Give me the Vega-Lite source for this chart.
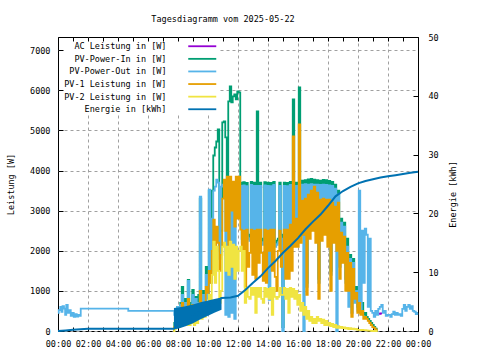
{
  "$schema": "https://vega.github.io/schema/vega-lite/v6.json",
  "width": 360,
  "height": 294,
  "autosize": {"type": "none"},
  "padding": {"left": 58, "top": 37, "right": 62, "bottom": 29},
  "title": {"text": "Tagesdiagramm vom 2025-05-22", "fontSize": 8.5, "fontWeight": "normal", "font": "DejaVu Sans Mono", "color": "black", "anchor": "middle", "offset": 10, "dx": -15},
  "config": {
    "font": "DejaVu Sans Mono",
    "view": {"stroke": "black", "strokeWidth": 1},
    "axis": {"labelFontSize": 8.5, "titleFontSize": 8.5, "titleFontWeight": "normal", "labelColor": "black", "titleColor": "black", "tickColor": "black", "domain": false, "gridColor": "#a0a0a0", "gridDash": [3, 3], "tickSize": -5, "labelPadding": 13},
    "mark": {"invalid": "filter"},
    "line": {"strokeWidth": 1.8}
  },
  "datasets": {
    "d": [
      {"t": 0.0, "pout": 450}, {"t": 0.1, "pout": 520}, {"t": 0.2, "pout": 600}, {"t": 0.25, "pout": 480}, {"t": 0.35, "pout": 620}, {"t": 0.45, "pout": 560}, {"t": 0.5, "pout": 400}, {"t": 0.6, "pout": 650}, {"t": 0.7, "pout": 450}, {"t": 0.8, "pout": 520}, {"t": 0.9, "pout": 380}, {"t": 1.0, "pout": 450}, {"t": 1.1, "pout": 350}, {"t": 1.2, "pout": 420}, {"t": 1.3, "pout": 360}, {"t": 1.4, "pout": 400}, {"t": 1.5, "pout": 380}, {"t": 1.53, "pout": 560}, {"t": 4.67, "pout": 560}, {"t": 4.7, "pout": 500}, {"t": 7.6, "pout": 500},
      {"t": 7.7, "pin": 0, "pout": 500, "pv1": 0, "pv2": 0},
      {"t": 7.8, "pin": 200, "pout": 400, "pv1": 100, "pv2": 50},
      {"t": 7.9, "pin": 300, "pout": 550, "pv1": 200, "pv2": 100},
      {"t": 8.0, "pin": 600, "pout": 600, "pv1": 300, "pv2": 150},
      {"t": 8.1, "pin": 400, "pout": 350, "pv1": 250, "pv2": 100},
      {"t": 8.2, "pin": 700, "pout": 650, "pv1": 400, "pv2": 200},
      {"t": 8.3, "pin": 1100, "pout": 900, "pv1": 700, "pv2": 300},
      {"t": 8.4, "pin": 500, "pout": 400, "pv1": 300, "pv2": 150},
      {"t": 8.5, "pin": 800, "pout": 700, "pv1": 500, "pv2": 250},
      {"t": 8.6, "pin": 400, "pout": 350, "pv1": 250, "pv2": 150},
      {"t": 8.7, "pin": 1275, "pout": 1250, "pv1": 800, "pv2": 350},
      {"t": 8.8, "pin": 500, "pout": 450, "pv1": 300, "pv2": 150},
      {"t": 8.9, "pin": 700, "pout": 600, "pv1": 450, "pv2": 200},
      {"t": 9.0, "pin": 1025, "pout": 900, "pv1": 650, "pv2": 300},
      {"t": 9.1, "pin": 500, "pout": 450, "pv1": 350, "pv2": 150},
      {"t": 9.2, "pin": 850, "pout": 800, "pv1": 550, "pv2": 250},
      {"t": 9.3, "pin": 400, "pout": 350, "pv1": 300, "pv2": 200},
      {"t": 9.4, "pin": 900, "pout": 700, "pv1": 600, "pv2": 350},
      {"t": 9.5, "pin": 3300, "pout": 3350, "pv1": 1000, "pv2": 400},
      {"t": 9.6, "pin": 600, "pout": 500, "pv1": 400, "pv2": 300},
      {"t": 9.7, "pin": 1000, "pout": 900, "pv1": 700, "pv2": 450},
      {"t": 9.8, "pin": 700, "pout": 600, "pv1": 500, "pv2": 350},
      {"t": 9.9, "pin": 1600, "pout": 1400, "pv1": 1100, "pv2": 550},
      {"t": 10.0, "pin": 900, "pout": 800, "pv1": 950, "pv2": 500},
      {"t": 10.1, "pin": 3500, "pout": 3525, "pv1": 1500, "pv2": 900},
      {"t": 10.2, "pin": 1500, "pout": 1200, "pv1": 1200, "pv2": 700},
      {"t": 10.3, "pin": 3500, "pout": 2800, "pv1": 2000, "pv2": 1400},
      {"t": 10.4, "pin": 4375, "pout": 3500, "pv1": 2775, "pv2": 2225},
      {"t": 10.5, "pin": 4575, "pout": 3600, "pv1": 1800, "pv2": 1200},
      {"t": 10.6, "pin": 4725, "pout": 3775, "pv1": 2600, "pv2": 2100},
      {"t": 10.7, "pin": 5025, "pout": 3700, "pv1": 2200, "pv2": 1500},
      {"t": 10.8, "pin": 2000, "pout": 1800, "pv1": 1500, "pv2": 700},
      {"t": 10.9, "pin": 2500, "pout": 3600, "pv1": 1900, "pv2": 1000},
      {"t": 11.0, "pin": 5200, "pout": 3650, "pv1": 3300, "pv2": 2100},
      {"t": 11.1, "pin": 5225, "pout": 3600, "pv1": 3775, "pv2": 2200},
      {"t": 11.2, "pin": 4825, "pout": 400, "pv1": 2500, "pv2": 1500},
      {"t": 11.3, "pin": 3700, "pout": 3650, "pv1": 3850, "pv2": 2100},
      {"t": 11.4, "pin": 5725, "pout": 350, "pv1": 2000, "pv2": 1400},
      {"t": 11.5, "pin": 6100, "pout": 3650, "pv1": 3850, "pv2": 2225},
      {"t": 11.6, "pin": 5700, "pout": 450, "pv1": 3000, "pv2": 1600},
      {"t": 11.7, "pin": 5850, "pout": 3600, "pv1": 3725, "pv2": 2150},
      {"t": 11.8, "pin": 5900, "pout": 300, "pv1": 2600, "pv2": 1300},
      {"t": 11.9, "pin": 5775, "pout": 3650, "pv1": 3850, "pv2": 2100},
      {"t": 12.0, "pin": 5975, "pout": 3600, "pv1": 2800, "pv2": 1500},
      {"t": 12.1, "pin": 5950, "pout": 3650, "pv1": 3850, "pv2": 2000},
      {"t": 12.2, "pin": 3700, "pout": 3620, "pv1": 2525, "pv2": 2100},
      {"t": 12.3, "pin": 2300, "pout": 2200, "pv1": 2000, "pv2": 1500},
      {"t": 12.4, "pin": 3710, "pout": 3630, "pv1": 2500, "pv2": 2000},
      {"t": 12.5, "pin": 2250, "pout": 2150, "pv1": 1100, "pv2": 700},
      {"t": 12.6, "pin": 3690, "pout": 3610, "pv1": 2525, "pv2": 1075},
      {"t": 12.7, "pin": 2400, "pout": 2300, "pv1": 1600, "pv2": 850},
      {"t": 12.8, "pin": 2350, "pout": 2250, "pv1": 1950, "pv2": 800},
      {"t": 12.9, "pin": 3720, "pout": 3640, "pv1": 2525, "pv2": 1075},
      {"t": 13.0, "pin": 2300, "pout": 2200, "pv1": 1400, "pv2": 900},
      {"t": 13.1, "pin": 3700, "pout": 3620, "pv1": 2500, "pv2": 1075},
      {"t": 13.2, "pin": 2400, "pout": 2300, "pv1": 1300, "pv2": 450},
      {"t": 13.3, "pin": 5475, "pout": 3620, "pv1": 2525, "pv2": 1075},
      {"t": 13.4, "pin": 2200, "pout": 2100, "pv1": 1700, "pv2": 850},
      {"t": 13.5, "pin": 3700, "pout": 3620, "pv1": 2525, "pv2": 1075},
      {"t": 13.6, "pin": 2300, "pout": 2200, "pv1": 1950, "pv2": 800},
      {"t": 13.7, "pin": 2250, "pout": 2150, "pv1": 1250, "pv2": 700},
      {"t": 13.8, "pin": 3710, "pout": 3630, "pv1": 2525, "pv2": 1075},
      {"t": 13.9, "pin": 2400, "pout": 2300, "pv1": 1200, "pv2": 850},
      {"t": 14.0, "pin": 3700, "pout": 3620, "pv1": 2500, "pv2": 1050},
      {"t": 14.1, "pin": 900, "pout": 775, "pv1": 2000, "pv2": 800},
      {"t": 14.2, "pin": 3690, "pout": 3610, "pv1": 2525, "pv2": 1075},
      {"t": 14.3, "pin": 2300, "pout": 2200, "pv1": 1500, "pv2": 400},
      {"t": 14.4, "pin": 3720, "pout": 3640, "pv1": 2525, "pv2": 1075},
      {"t": 14.5, "pin": 2200, "pout": 2100, "pv1": 1350, "pv2": 850},
      {"t": 14.6, "pin": 2250, "pout": 2150, "pv1": 1000, "pv2": 800},
      {"t": 14.7, "pin": 2300, "pout": 2200, "pv1": 2000, "pv2": 850},
      {"t": 14.8, "pin": 3700, "pout": 3620, "pv1": 2500, "pv2": 1075},
      {"t": 14.9, "pin": 2400, "pout": 2300, "pv1": 1600, "pv2": 900},
      {"t": 15.0, "pin": 100, "pout": 0, "pv1": 2000, "pv2": 900},
      {"t": 15.1, "pin": 3700, "pout": 3620, "pv1": 2525, "pv2": 1075},
      {"t": 15.2, "pin": 2300, "pout": 2200, "pv1": 1300, "pv2": 800},
      {"t": 15.3, "pin": 3690, "pout": 3610, "pv1": 2525, "pv2": 1050},
      {"t": 15.4, "pin": 2250, "pout": 2150, "pv1": 1300, "pv2": 450},
      {"t": 15.5, "pin": 3720, "pout": 3640, "pv1": 2650, "pv2": 1075},
      {"t": 15.6, "pin": 2200, "pout": 2100, "pv1": 1500, "pv2": 850},
      {"t": 15.7, "pin": 5775, "pout": 3620, "pv1": 4850, "pv2": 1050},
      {"t": 15.8, "pin": 2300, "pout": 2200, "pv1": 2100, "pv2": 800},
      {"t": 15.9, "pin": 3700, "pout": 3620, "pv1": 2800, "pv2": 1000},
      {"t": 16.0, "pin": 2600, "pout": 2500, "pv1": 2100, "pv2": 650},
      {"t": 16.1, "pin": 6075, "pout": 3640, "pv1": 5150, "pv2": 900},
      {"t": 16.2, "pin": 2500, "pout": 2400, "pv1": 2200, "pv2": 500},
      {"t": 16.3, "pin": 3750, "pout": 3650, "pv1": 3250, "pv2": 700},
      {"t": 16.4, "pin": 2700, "pout": 0, "pv1": 2400, "pv2": 400},
      {"t": 16.5, "pin": 3760, "pout": 3660, "pv1": 3300, "pv2": 600},
      {"t": 16.6, "pin": 1200, "pout": 1100, "pv1": 900, "pv2": 300},
      {"t": 16.7, "pin": 3780, "pout": 3650, "pv1": 3400, "pv2": 500},
      {"t": 16.8, "pin": 2600, "pout": 2500, "pv1": 2300, "pv2": 250},
      {"t": 16.9, "pin": 3790, "pout": 3660, "pv1": 3500, "pv2": 350},
      {"t": 17.0, "pin": 2800, "pout": 2700, "pv1": 2500, "pv2": 200},
      {"t": 17.1, "pin": 3775, "pout": 3650, "pv1": 3600, "pv2": 300},
      {"t": 17.2, "pin": 2600, "pout": 2500, "pv1": 2200, "pv2": 200},
      {"t": 17.3, "pin": 3760, "pout": 3650, "pv1": 3450, "pv2": 350},
      {"t": 17.4, "pin": 1300, "pout": 1200, "pv1": 800, "pv2": 250},
      {"t": 17.5, "pin": 3750, "pout": 3640, "pv1": 3275, "pv2": 300},
      {"t": 17.6, "pin": 2600, "pout": 2500, "pv1": 2250, "pv2": 200},
      {"t": 17.7, "pin": 3770, "pout": 3650, "pv1": 3300, "pv2": 280},
      {"t": 17.8, "pin": 2700, "pout": 2600, "pv1": 2400, "pv2": 150},
      {"t": 17.9, "pin": 3760, "pout": 3640, "pv1": 3275, "pv2": 250},
      {"t": 18.0, "pin": 2500, "pout": 2400, "pv1": 2100, "pv2": 150},
      {"t": 18.1, "pin": 3740, "pout": 3630, "pv1": 3275, "pv2": 200},
      {"t": 18.2, "pin": 1500, "pout": 1400, "pv1": 1000, "pv2": 120},
      {"t": 18.3, "pin": 3720, "pout": 3620, "pv1": 3200, "pv2": 180},
      {"t": 18.4, "pin": 2500, "pout": 2400, "pv1": 2200, "pv2": 100},
      {"t": 18.5, "pin": 3650, "pout": 3550, "pv1": 3100, "pv2": 150},
      {"t": 18.6, "pin": 2300, "pout": 0, "pv1": 2000, "pv2": 80},
      {"t": 18.7, "pin": 3500, "pout": 3400, "pv1": 3200, "pv2": 120},
      {"t": 18.8, "pin": 1700, "pout": 1600, "pv1": 1300, "pv2": 80},
      {"t": 18.9, "pin": 2800, "pout": 2700, "pv1": 2450, "pv2": 100},
      {"t": 19.0, "pin": 2000, "pout": 1900, "pv1": 1700, "pv2": 70},
      {"t": 19.1, "pin": 2700, "pout": 2600, "pv1": 2350, "pv2": 90},
      {"t": 19.2, "pin": 1300, "pout": 1200, "pv1": 1000, "pv2": 60},
      {"t": 19.3, "pin": 2300, "pout": 2100, "pv1": 1950, "pv2": 75},
      {"t": 19.4, "pin": 1200, "pout": 600, "pv1": 1000, "pv2": 50},
      {"t": 19.5, "pin": 1900, "pout": 1800, "pv1": 1700, "pv2": 70},
      {"t": 19.6, "pin": 700, "pout": 450, "pv1": 350, "pv2": 50},
      {"t": 19.7, "pin": 1800, "pout": 1700, "pv1": 1550, "pv2": 60},
      {"t": 19.8, "pin": 1000, "pout": 700, "pv1": 800, "pv2": 40},
      {"t": 19.9, "pin": 1100, "pout": 1000, "pv1": 950, "pv2": 50},
      {"t": 20.0, "pin": 600, "pout": 500, "pv1": 450, "pv2": 30},
      {"t": 20.1, "pin": 900, "pout": 3500, "pv1": 700, "pv2": 30},
      {"t": 20.2, "pin": 500, "pout": 450, "pv1": 400, "pv2": 25},
      {"t": 20.3, "pin": 700, "pout": 2500, "pv1": 500, "pv2": 25},
      {"t": 20.4, "pin": 400, "pout": 1200, "pv1": 300, "pv2": 20},
      {"t": 20.5, "pin": 450, "pout": 2550, "pv1": 350, "pv2": 20},
      {"t": 20.6, "pin": 350, "pout": 2400, "pv1": 300, "pv2": 15},
      {"t": 20.7, "pin": 300, "pout": 600, "pv1": 250, "pv2": 10},
      {"t": 20.8, "pin": 250, "pout": 2300, "pv1": 200, "pv2": 10},
      {"t": 20.9, "pin": 200, "pout": 500, "pv1": 150, "pv2": 5},
      {"t": 21.0, "pin": 150, "pout": 450, "pv1": 100, "pv2": 0},
      {"t": 21.1, "pin": 100, "pout": 350, "pv1": 80, "pv2": 0},
      {"t": 21.2, "pin": 60, "pout": 500, "pv1": 40, "pv2": 0},
      {"t": 21.3, "pin": 0, "pout": 400, "pv1": 0, "pv2": 0},
      {"t": 21.4, "pout": 550}, {"t": 21.5, "pout": 600}, {"t": 21.6, "pout": 650}, {"t": 21.7, "pout": 450}, {"t": 21.8, "pout": 500}, {"t": 21.9, "pout": 380}, {"t": 22.0, "pout": 400}, {"t": 22.1, "pout": 400}, {"t": 22.2, "pout": 350}, {"t": 22.3, "pout": 420}, {"t": 22.4, "pout": 480}, {"t": 22.5, "pout": 400}, {"t": 22.6, "pout": 450}, {"t": 22.7, "pout": 400}, {"t": 22.8, "pout": 420}, {"t": 22.9, "pout": 380}, {"t": 23.0, "pout": 550}, {"t": 23.1, "pout": 650}, {"t": 23.2, "pout": 500}, {"t": 23.3, "pout": 600}, {"t": 23.4, "pout": 650}, {"t": 23.5, "pout": 550}, {"t": 23.6, "pout": 620}, {"t": 23.7, "pout": 500}, {"t": 23.8, "pout": 480}, {"t": 23.9, "pout": 420}, {"t": 24.0, "pout": 450}
    ],
    "ac": [
      {"t": 13.5, "ac": 3590, "seg": 1}, {"t": 13.6, "ac": 3600, "seg": 1},
      {"t": 21.4, "ac": 430, "seg": 2}, {"t": 21.6, "ac": 440, "seg": 2}
    ],
    "band": [
      {"t": 7.73, "lo": 0.3, "hi": 3.9}, {"t": 8.0, "lo": 0.4, "hi": 4.0}, {"t": 8.5, "lo": 0.8, "hi": 4.2}, {"t": 9.0, "lo": 1.3, "hi": 4.5}, {"t": 9.5, "lo": 2.0, "hi": 4.9}, {"t": 10.0, "lo": 2.6, "hi": 5.2}, {"t": 10.5, "lo": 3.2, "hi": 5.5}, {"t": 10.9, "lo": 3.6, "hi": 5.7}
    ],
    "energy": [
      {"t": 0.0, "e": 0}, {"t": 0.5, "e": 0.1}, {"t": 1.0, "e": 0.2}, {"t": 1.5, "e": 0.3}, {"t": 2.0, "e": 0.4}, {"t": 7.73, "e": 0.4}, {"t": 10.9, "e": 5.6}, {"t": 11.5, "e": 5.7}, {"t": 12.0, "e": 6.0}, {"t": 12.5, "e": 7.0}, {"t": 13.0, "e": 8.2}, {"t": 13.5, "e": 9.3}, {"t": 14.0, "e": 10.7}, {"t": 14.5, "e": 11.9}, {"t": 15.0, "e": 13.3}, {"t": 15.5, "e": 14.5}, {"t": 16.0, "e": 15.8}, {"t": 16.5, "e": 17.3}, {"t": 17.0, "e": 18.6}, {"t": 17.5, "e": 19.8}, {"t": 18.0, "e": 21.3}, {"t": 18.5, "e": 22.9}, {"t": 19.0, "e": 23.8}, {"t": 19.5, "e": 24.5}, {"t": 20.0, "e": 25.1}, {"t": 20.5, "e": 25.5}, {"t": 21.0, "e": 25.8}, {"t": 21.5, "e": 26.1}, {"t": 22.0, "e": 26.3}, {"t": 22.5, "e": 26.5}, {"t": 23.0, "e": 26.7}, {"t": 23.5, "e": 26.9}, {"t": 24.0, "e": 27.1}
    ]
  },
  "layer": [
    {
      "encoding": {
        "x": {
          "field": "t", "type": "quantitative", "title": null,
          "scale": {"domain": [0, 24], "nice": false, "zero": false},
          "axis": {
            "orient": "bottom",
            "values": [0,1,2,3,4,5,6,7,8,9,10,11,12,13,14,15,16,17,18,19,20,21,22,23,24],
            "labelExpr": "datum.value % 2 == 0 ? ((datum.value % 24) < 10 ? '0' : '') + (datum.value % 24) + ':00' : ''",
            "gridOpacity": {"condition": {"test": "datum.value % 2 == 1 || datum.value == 0 || datum.value == 24", "value": 0}, "value": 1},
            "tickSize": -4, "labelPadding": 12, "labelDx": -2, "labelFlush": false, "labelOverlap": false
          }
        }
      },
      "layer": [
        {
          "data": {"name": "ac"},
          "mark": {"type": "line", "interpolate": "step"},
          "encoding": {
            "y": {"field": "ac", "type": "quantitative", "title": "Leistung [W]", "scale": {"domain": [0, 7330], "nice": false}, "axis": {"values": [0,1000,2000,3000,4000,5000,6000,7000], "format": "d", "titleX": -48, "titleY": 147, "titleAlign": "center", "titleBaseline": "middle", "labelPadding": 13}},
            "detail": {"field": "seg"},
            "color": {
              "datum": "AC Leistung in [W]",
              "scale": {
                "domain": ["AC Leistung in [W]", "PV-Power-In in [W]", "PV-Power-Out in [W]", "PV-1 Leistung in [W]", "PV-2 Leistung in [W]", "Energie in [kWh]"],
                "range": ["#9400d3", "#009e73", "#56b4e9", "#e69f00", "#f0e442", "#0072b2"]
              },
              "legend": {"orient": "none", "legendX": 6, "legendY": 5, "title": null, "labelAlign": "right", "labelOffset": -40, "symbolOffset": 134, "symbolType": "M-7,0H7", "symbolSize": 16, "symbolStrokeWidth": 2, "labelFontSize": 8.5, "labelFont": "DejaVu Sans Mono", "labelColor": "black", "rowPadding": 3.6, "fillColor": "white", "padding": 0, "labelLimit": 300}
            }
          }
        },
        {
          "data": {"name": "d"},
          "mark": {"type": "line", "interpolate": "step"},
          "encoding": {
            "y": {"field": "pin", "type": "quantitative", "title": "Leistung [W]", "scale": {"domain": [0, 7330], "nice": false}, "axis": {"values": [0,1000,2000,3000,4000,5000,6000,7000], "format": "d", "titleX": -48, "titleY": 147, "titleAlign": "center", "titleBaseline": "middle", "labelPadding": 13}},
            "color": {"datum": "PV-Power-In in [W]"}
          }
        },
        {
          "data": {"name": "d"},
          "mark": {"type": "line", "interpolate": "step"},
          "encoding": {
            "y": {"field": "pout", "type": "quantitative", "title": "Leistung [W]", "scale": {"domain": [0, 7330], "nice": false}, "axis": {"values": [0,1000,2000,3000,4000,5000,6000,7000], "format": "d", "titleX": -48, "titleY": 147, "titleAlign": "center", "titleBaseline": "middle", "labelPadding": 13}},
            "color": {"datum": "PV-Power-Out in [W]"}
          }
        },
        {
          "data": {"name": "d"},
          "mark": {"type": "line", "interpolate": "step"},
          "encoding": {
            "y": {"field": "pv1", "type": "quantitative", "title": "Leistung [W]", "scale": {"domain": [0, 7330], "nice": false}, "axis": {"values": [0,1000,2000,3000,4000,5000,6000,7000], "format": "d", "titleX": -48, "titleY": 147, "titleAlign": "center", "titleBaseline": "middle", "labelPadding": 13}},
            "color": {"datum": "PV-1 Leistung in [W]"}
          }
        },
        {
          "data": {"name": "d"},
          "mark": {"type": "line", "interpolate": "step"},
          "encoding": {
            "y": {"field": "pv2", "type": "quantitative", "title": "Leistung [W]", "scale": {"domain": [0, 7330], "nice": false}, "axis": {"values": [0,1000,2000,3000,4000,5000,6000,7000], "format": "d", "titleX": -48, "titleY": 147, "titleAlign": "center", "titleBaseline": "middle", "labelPadding": 13}},
            "color": {"datum": "PV-2 Leistung in [W]"}
          }
        }
      ]
    },
    {
      "encoding": {
        "x": {
          "field": "t", "type": "quantitative", "title": null,
          "scale": {"domain": [0, 24], "nice": false, "zero": false},
          "axis": {"orient": "top", "values": [0,1,2,3,4,5,6,7,8,9,10,11,12,13,14,15,16,17,18,19,20,21,22,23,24], "labels": false, "grid": false, "tickSize": -4}
        }
      },
      "layer": [
        {
          "data": {"name": "band"},
          "mark": {"type": "area", "color": "#0072b2", "opacity": 1},
          "encoding": {
            "y": {"field": "lo", "type": "quantitative", "title": "Energie [kWh]", "scale": {"domain": [0, 50], "nice": false}, "axis": {"orient": "right", "values": [0,10,20,30,40,50], "grid": false, "titleX": 34, "titleY": 157, "titleAngle": 270, "titleAlign": "center", "titleBaseline": "middle", "labelPadding": 15}},
            "y2": {"field": "hi"}
          }
        },
        {
          "data": {"name": "energy"},
          "mark": {"type": "line", "strokeWidth": 2},
          "encoding": {
            "y": {"field": "e", "type": "quantitative", "title": "Energie [kWh]", "scale": {"domain": [0, 50], "nice": false}, "axis": {"orient": "right", "values": [0,10,20,30,40,50], "grid": false, "titleX": 34, "titleY": 157, "titleAngle": 270, "titleAlign": "center", "titleBaseline": "middle", "labelPadding": 15}},
            "color": {"datum": "Energie in [kWh]"}
          }
        }
      ]
    }
  ],
  "resolve": {"scale": {"y": "independent"}, "axis": {"x": "independent"}}
}
